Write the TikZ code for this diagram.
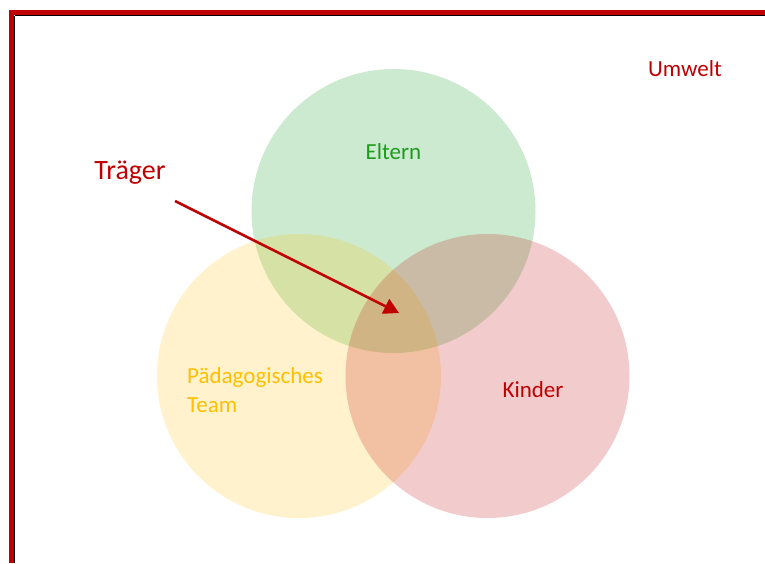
\documentclass[tikz,border=0pt]{standalone}
\usepackage{fontspec}
\setmainfont{Carlito}
\usetikzlibrary{arrows.meta}
\definecolor{darkred}{HTML}{C00000}
\definecolor{gold}{HTML}{FFC000}
\definecolor{leaf}{HTML}{009610}
\definecolor{leaftext}{HTML}{1E9B1E}
\definecolor{shade}{HTML}{D0D0D0}
\tikzset{
  setcircle/.style={circle, minimum size=284pt, inner sep=0pt, draw=none, fill opacity=0.2},
  label/.style={inner sep=0pt, font=\fontsize{23}{28.5}\selectfont},
  frame/.style={draw=darkred, line width=5pt},
}
\begin{document}
\begin{tikzpicture}[x=1pt, y=-1pt]
  \useasboundingbox (0,0) rectangle (765,563);
  \fill[white] (0,0) rectangle (765,563);
  % environment frame with soft shadow
  \draw[shade, line width=1.5pt] (14.5,15.5) -- (765,15.5);
  \draw[shade, line width=1.5pt] (14.5,15.5) -- (14.5,563);
  \coordinate (frameTR) at (765,12.5);
  \coordinate (frameC) at (11.5,12.5);
  \coordinate (frameBL) at (11.5,563);
  \draw[frame] (frameTR) -- (frameC) -- (frameBL);
  % the three sets
  \node[setcircle, fill=leaf] (eltern) at (393.5,211) {};
  \node[setcircle, fill=gold] (team) at (299,376) {};
  \node[setcircle, fill=darkred] (kinder) at (487.5,376) {};
  % labels
  \node[label, text=leaftext, anchor=base] (elternText) at (393.5,159) {Eltern};
  \node[label, text=darkred, anchor=base] (kinderText) at (533,397) {Kinder};
  \node[label, text=gold, anchor=base west, align=left] (teamText) at (187,412) {Pädagogisches\\Team};
  \node[label, text=darkred, anchor=base] (umwelt) at (685,76) {Umwelt};
  \node[inner sep=0pt, text=darkred, font=\fontsize{28}{34}\selectfont, anchor=base] (traeger) at (130,179) {Träger};
  % pointer into the common intersection
  \coordinate (arrowStart) at (175,201);
  \coordinate (arrowTip) at (399,313);
  \draw[darkred, line width=2.5pt, -{Triangle[length=15pt, width=16pt]}] (arrowStart) -- (arrowTip);
\end{tikzpicture}
\end{document}
